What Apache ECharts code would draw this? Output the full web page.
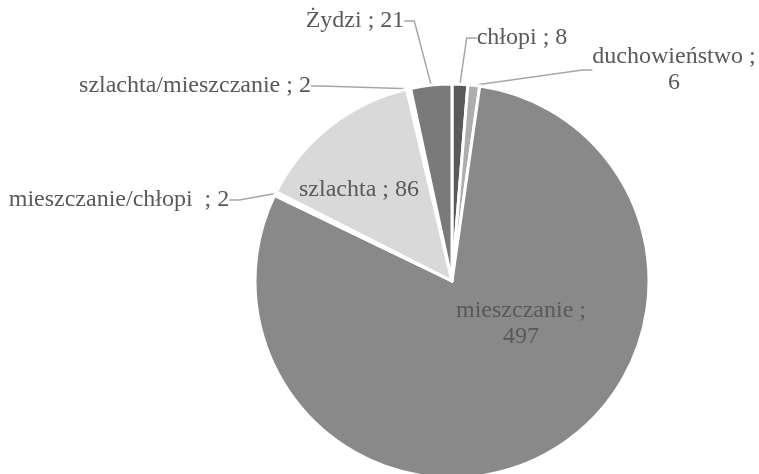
<!DOCTYPE html>
<html>
<head>
    <meta charset="utf-8" />
    <script src="https://cdn.jsdelivr.net/npm/echarts@6/dist/echarts.min.js"></script>
    <title>Struktura stanowa</title>
    <style>
        html, body { margin: 0; padding: 0; background: #fff; }
        #main { width: 759px; height: 474px; }
    </style>
</head>
<body>
    <div id="main"></div>
    <script type="text/javascript">
        // kategorie i wartosci
        var categories = ['chłopi', 'duchowieństwo', 'mieszczanie', 'mieszczanie/chłopi ', 'szlachta', 'szlachta/mieszczanie', 'Żydzi'];
        var values = [8, 6, 497, 2, 86, 2, 21];
        var colors = ['#5a5a5a', '#aeaeae', '#898989', '#ffffff', '#d9d9d9', '#ffffff', '#7a7a7a'];

        // gdzie stoja podpisy (srodek tekstu)
        var labelPos = [
            { x: 522, y: 38 },
            { x: 674, y: 70 },
            { x: 521, y: 324 },
            { x: 119, y: 200 },
            { x: 359, y: 190 },
            { x: 195, y: 86 },
            { x: 355, y: 21 }
        ];
        var insideIdx = [2, 4];
        var serif = "'Liberation Serif', 'DejaVu Serif', 'Times New Roman', serif";

        var chart = echarts.init(document.getElementById('main'));
        var data = categories.map(function (name, i) {
            var inside = insideIdx.indexOf(i) >= 0;
            return {
                name: name,
                value: values[i],
                itemStyle: { color: colors[i] },
                label: { position: inside ? 'inside' : 'outside' },
                labelLine: { show: !inside }
            };
        });

        var option = {
            animation: false,
            textStyle: { fontFamily: serif },
            series: [{
                type: 'pie',
                center: [452, 281],
                radius: 197,
                startAngle: 90,
                clockwise: true,
                avoidLabelOverlap: false,
                itemStyle: { borderColor: '#ffffff', borderWidth: 3 },
                label: {
                    fontFamily: serif,
                    fontSize: 24,
                    color: '#595959',
                    lineHeight: 26,
                    align: 'center',
                    formatter: function (p) {
                        if (p.name === 'mieszczanie' || p.name === 'duchowieństwo') {
                            return p.name + ' ;\n' + p.value;
                        }
                        return p.name + ' ; ' + p.value;
                    }
                },
                labelLine: {
                    length: 20,
                    length2: 10,
                    smooth: false,
                    lineStyle: { color: '#a6a6a6', width: 1.5 }
                },
                labelLayout: function (params) {
                    var p = labelPos[params.dataIndex];
                    return {
                        x: p.x,
                        y: p.y,
                        align: 'center',
                        verticalAlign: 'middle'
                    };
                },
                data: data
            }]
        };
        chart.setOption(option);
    </script>
</body>
</html>
